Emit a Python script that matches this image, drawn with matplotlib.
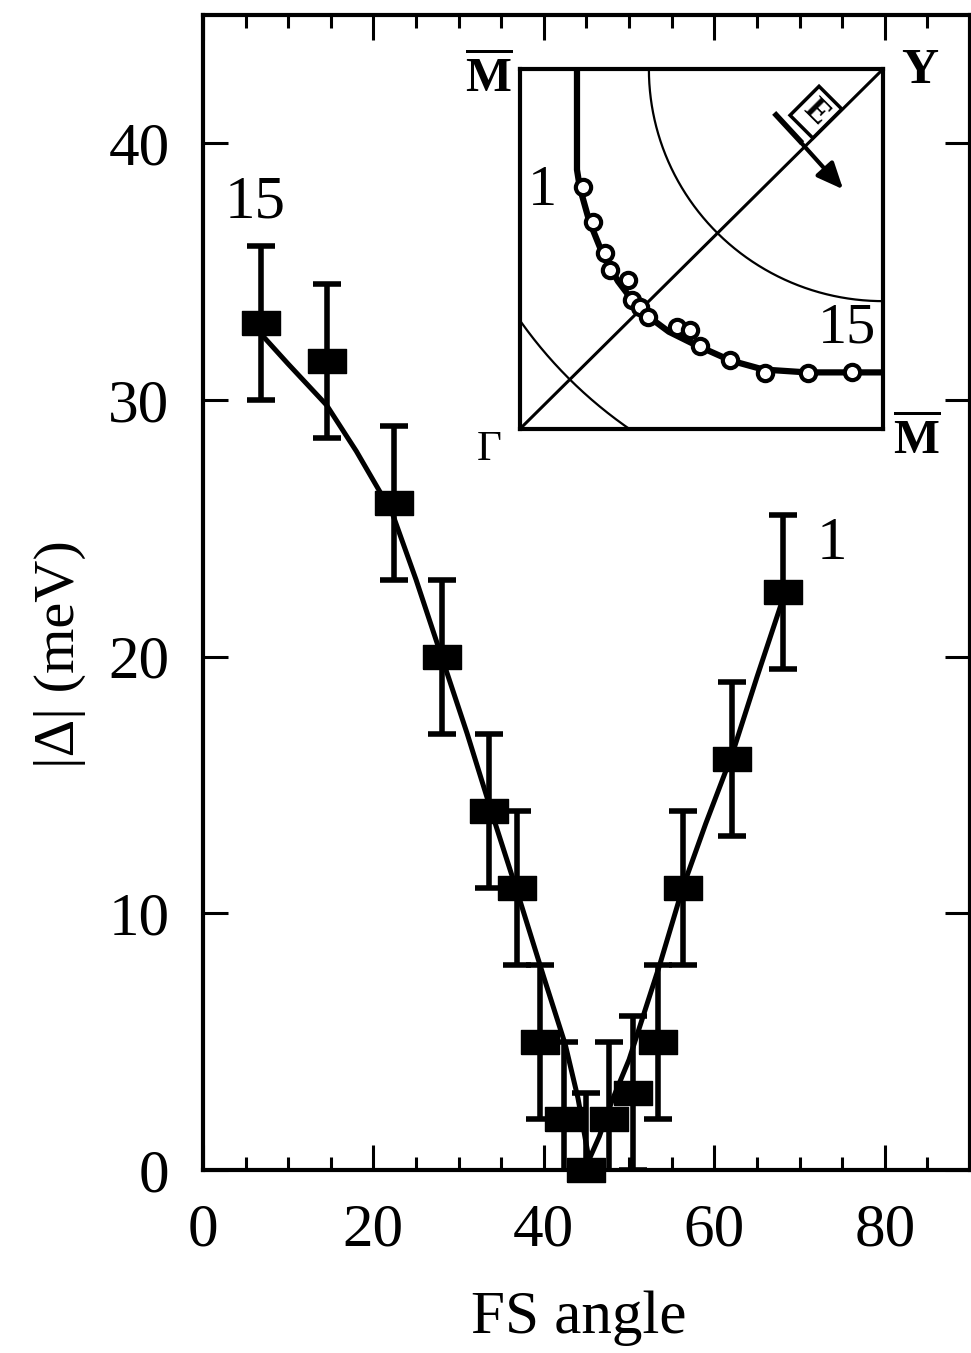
import matplotlib
matplotlib.use('Agg')
import matplotlib.pyplot as plt
import numpy as np

plt.rcParams['font.family'] = ['Liberation Serif', 'DejaVu Serif']
plt.rcParams['mathtext.fontset'] = 'custom'
plt.rcParams['mathtext.rm'] = 'Liberation Serif'
plt.rcParams['mathtext.bf'] = 'Liberation Serif:bold'

# gap magnitude vs Fermi-surface angle (points 15 ... 1)
fs_angle = [6.8, 14.6, 22.4, 28.0, 33.6, 36.8, 39.5, 42.4, 45.0, 47.7, 50.5, 53.4, 56.3, 62.1, 68.1]
gap = [33, 31.5, 26, 20, 14, 11, 5, 2, 0, 2, 3, 5, 11, 16, 22.5]
gap_err = [3, 3, 3, 3, 3, 3, 3, 3, 3, 3, 3, 3, 3, 3, 3]

# fit curve
fit_angle = [7.0, 10.0, 14.5, 18.0, 22.2, 25.0, 28.0, 31.0, 34.0, 37.0, 40.0, 42.5, 44.0,
             45.3, 46.5, 48.0, 50.0, 53.6, 56.3, 59.0, 62.1, 65.0, 68.1]
fit_gap = [32.5, 31.4, 29.8, 28.0, 25.6, 23.0, 20.0, 17.0, 13.8, 10.7, 7.5, 4.9, 2.8,
           0.4, 1.3, 2.7, 4.3, 8.0, 11.0, 13.5, 16.2, 19.2, 22.3]

# inset: Fermi surface in the quadrant (Gamma at 0,0 ; Y at 1,1)
fs_x = [0.157, 0.157, 0.165, 0.19, 0.23, 0.27, 0.33, 0.41, 0.48, 0.58, 0.67, 0.79, 1.0]
fs_y = [1.0, 0.72, 0.67, 0.58, 0.48, 0.41, 0.33, 0.27, 0.235, 0.19, 0.165, 0.157, 0.157]
kx = [0.174, 0.200, 0.234, 0.248, 0.298, 0.308, 0.331, 0.353, 0.432, 0.468, 0.496, 0.579, 0.675, 0.794, 0.914]
ky = [0.673, 0.576, 0.488, 0.442, 0.414, 0.358, 0.340, 0.312, 0.284, 0.275, 0.229, 0.192, 0.155, 0.155, 0.159]
arc_radii = [0.645, 1.22]

fig = plt.figure(figsize=(9.71, 13.53), dpi=100)
ax = fig.add_axes([0.209, 0.1353, 0.79, 0.8537])

rect = [(-1, -0.65), (1, -0.65), (1, 0.65), (-1, 0.65), (-1, -0.65)]
ax.plot(fit_angle, fit_gap, color='black', lw=3.6, zorder=2)
ax.errorbar(fs_angle, gap, yerr=gap_err, fmt='none', ecolor='black', elinewidth=4,
            capsize=10, capthick=4, zorder=3)
ax.plot(fs_angle, gap, ls='none', marker=rect, markersize=27, color='black', clip_on=False, zorder=4)

ax.text(6.1, 36.6, '15', fontsize=44, ha='center', va='bottom')
ax.text(73.8, 23.3, '1', fontsize=44, ha='center', va='bottom')

ax.set_xlim(0, 90)
ax.set_ylim(0, 45)
ax.set_xticks([0, 20, 40, 60, 80])
ax.set_xticks(np.arange(5, 90, 5), minor=True)
ax.set_yticks([0, 10, 20, 30, 40])
ax.tick_params(which='both', direction='in', top=True, right=True, width=2.2, labelsize=44)
ax.tick_params(which='major', length=18, pad=24)
ax.tick_params(which='minor', length=9.5)
for s in ax.spines.values():
    s.set_linewidth(3)
ax.set_xlabel('FS angle', fontsize=44)
ax.xaxis.set_label_coords(0.49, -0.104)
ax.set_ylabel('|Δ| (meV)', fontsize=42)
ax.yaxis.set_label_coords(-0.152, 0.447)

# inset
ins = fig.add_axes([0.5355, 0.683, 0.374, 0.266])
ins.set_xlim(0, 1)
ins.set_ylim(0, 1)
ins.set_xticks([])
ins.set_yticks([])
for s in ins.spines.values():
    s.set_linewidth(3)
ins.plot([0, 1], [0, 1], color='black', lw=2.2)
for r in arc_radii:
    t = np.linspace(np.pi, 1.5 * np.pi, 200)
    ins.plot(1 + r * np.cos(t), 1 + r * np.sin(t), color='black', lw=1.6)
ins.plot(fs_x, fs_y, color='black', lw=4.5)
ins.plot(kx, ky, ls='none', marker='o', markersize=11, mfc='white', mec='black', mew=3)
ins.text(0.063, 0.66, '1', fontsize=42, ha='center', va='center')
ins.text(0.90, 0.28, '15', fontsize=42, ha='center', va='center')
ins.text(0.815, 0.88, 'E', fontsize=24, fontweight='bold', ha='center', va='center', rotation=-45,
         bbox=dict(boxstyle='square,pad=0.15', fc='white', ec='black', lw=2.5))
ins.plot([0.70, 0.777], [0.878, 0.794], color='black', lw=4, solid_capstyle='butt')
ins.annotate('', xy=(0.895, 0.66), xytext=(0.77, 0.80),
             arrowprops=dict(arrowstyle='-|>,head_length=1.6,head_width=0.7', color='black', lw=3))
ins.text(-0.085, 0.975, r'$\overline{\mathbf{M}}$', fontsize=35, ha='center', va='center', clip_on=False)
ins.text(1.10, 0.995, 'Y', fontsize=37, fontweight='bold', ha='center', va='center', clip_on=False)
ins.text(-0.085, -0.058, 'Γ', fontsize=31, ha='center', va='center', clip_on=False)
ins.text(1.094, -0.03, r'$\overline{\mathbf{M}}$', fontsize=35, ha='center', va='center', clip_on=False)

plt.savefig('out.png', dpi=100)
plt.close()
